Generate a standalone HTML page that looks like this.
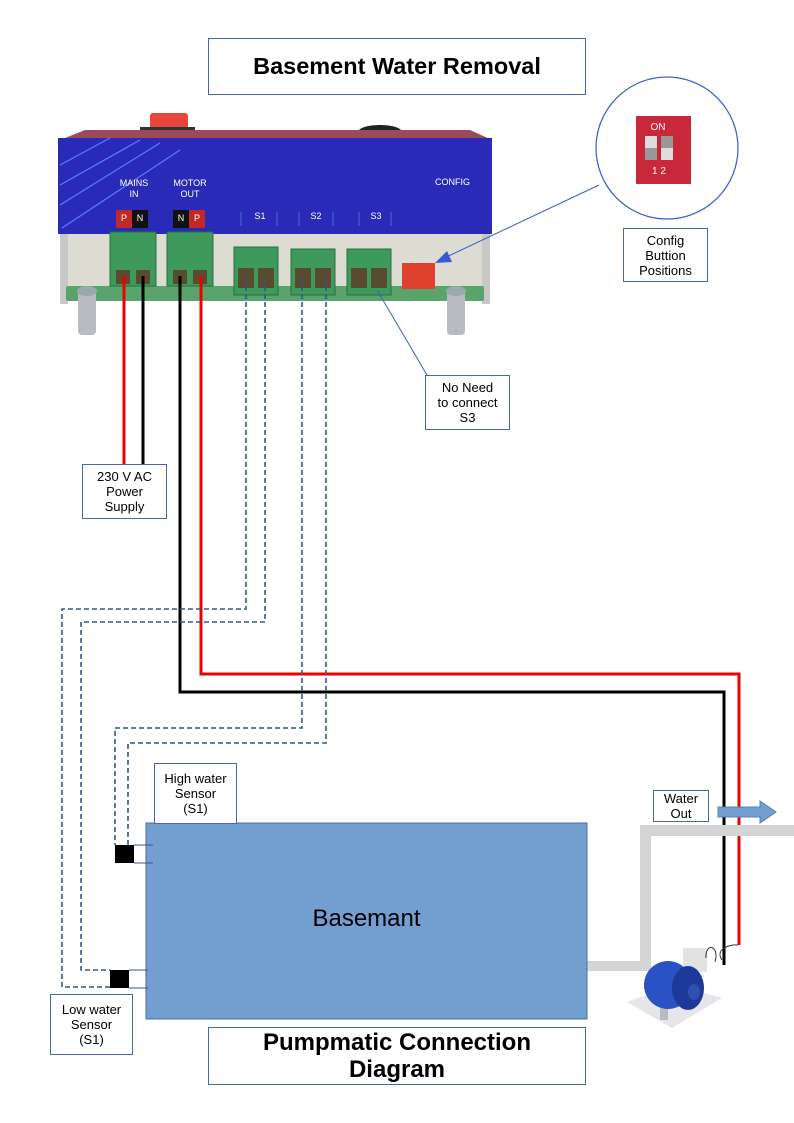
<!DOCTYPE html>
<html><head><meta charset="utf-8"><style>
body{margin:0;background:#fff;}
.t{position:absolute;font-family:"Liberation Sans",sans-serif;text-align:center;color:#000;}
.box{position:absolute;border:1px solid #4a63b8;background:#fff;box-sizing:border-box;font-family:"Liberation Sans",sans-serif;text-align:center;font-size:13px;line-height:15px;display:flex;align-items:center;justify-content:center;}
</style></head><body>
<div style="position:relative;width:794px;height:1123px;overflow:hidden">
<svg width="794" height="1123" style="position:absolute;left:0;top:0">
<!-- device -->
<rect x="150" y="113" width="38" height="20" rx="3" fill="#e8453c"/>
<rect x="140" y="127" width="55" height="8" fill="#333"/>
<ellipse cx="380" cy="132" rx="22" ry="7" fill="#222"/>
<polygon points="60,140 85,130 470,130 492,140" fill="#9b4a5a"/>
<rect x="58" y="138" width="434" height="96" fill="#2a2ab8"/>
<g stroke="#5a7cff" stroke-width="1.2">
<line x1="60" y1="165" x2="110" y2="138"/><line x1="60" y1="185" x2="140" y2="140"/><line x1="60" y1="205" x2="160" y2="143"/><line x1="62" y1="228" x2="180" y2="150"/>
</g>
<rect x="62" y="234" width="428" height="58" fill="#dcdcd2"/>
<rect x="60" y="234" width="8" height="70" fill="#c8c8c8"/>
<rect x="482" y="234" width="8" height="70" fill="#c8c8c8"/>
<rect x="66" y="286" width="418" height="15" rx="2" fill="#5aa36a"/>
<rect x="78" y="290" width="18" height="45" rx="4" fill="#b8bcc0"/>
<rect x="447" y="290" width="18" height="45" rx="4" fill="#b8bcc0"/>
<ellipse cx="87" cy="291" rx="10" ry="5" fill="#9aa"/>
<ellipse cx="456" cy="291" rx="10" ry="5" fill="#9aa"/>
<rect x="116" y="210" width="16" height="18" fill="#c0282a"/><rect x="132" y="210" width="16" height="18" fill="#111"/>
<rect x="173" y="210" width="16" height="18" fill="#111"/><rect x="189" y="210" width="16" height="18" fill="#c0282a"/>
<g stroke="#4b6cd6" stroke-width="1"><line x1="241" y1="212" x2="241" y2="226"/><line x1="277" y1="212" x2="277" y2="226"/><line x1="299" y1="212" x2="299" y2="226"/><line x1="333" y1="212" x2="333" y2="226"/><line x1="359" y1="212" x2="359" y2="226"/><line x1="391" y1="212" x2="391" y2="226"/></g>
<g fill="#3d9a5c" stroke="#2a6e40" stroke-width="1">
<rect x="110" y="232" width="46" height="54"/><rect x="167" y="232" width="46" height="54"/>
<rect x="234" y="247" width="44" height="48"/><rect x="291" y="249" width="44" height="46"/><rect x="347" y="249" width="44" height="46"/>
</g>
<g fill="#5a4a30">
<rect x="116" y="270" width="14" height="14"/><rect x="136" y="270" width="14" height="14"/><rect x="173" y="270" width="14" height="14"/><rect x="193" y="270" width="14" height="14"/>
<rect x="238" y="268" width="16" height="20"/><rect x="258" y="268" width="16" height="20"/><rect x="295" y="268" width="16" height="20"/><rect x="315" y="268" width="16" height="20"/><rect x="351" y="268" width="16" height="20"/><rect x="371" y="268" width="16" height="20"/>
</g>
<rect x="402" y="263" width="33" height="26" fill="#e0402e"/>
<circle cx="667" cy="148" r="71" fill="#fff" stroke="#3a5ad0" stroke-width="1.2"/>
<rect x="636" y="116" width="55" height="68" fill="#c8283a"/>
<rect x="645" y="136" width="12" height="24" fill="#ddd"/><rect x="661" y="136" width="12" height="24" fill="#ddd"/>
<rect x="645" y="148" width="12" height="12" fill="#999"/><rect x="661" y="136" width="12" height="12" fill="#999"/>
<line x1="599" y1="185" x2="440" y2="260" stroke="#3a5ad0" stroke-width="1"/>
<polygon points="435,263 447,251 452,262" fill="#3a5ad0"/>
<line x1="377" y1="290" x2="427" y2="375" stroke="#3a5ad0" stroke-width="1"/>
<line x1="124" y1="276" x2="124" y2="465" stroke="#e00" stroke-width="3"/>
<line x1="143" y1="276" x2="143" y2="465" stroke="#000" stroke-width="3"/>
<polyline points="201,276 201,674 739,674 739,945" fill="none" stroke="#e00" stroke-width="3"/>
<polyline points="180,276 180,692 724,692 724,965" fill="none" stroke="#000" stroke-width="3"/>
<g fill="none" stroke="#2e5a8f" stroke-width="1.6" stroke-dasharray="5,3">
<polyline points="246,278 246,609 62,609 62,987 110,987"/>
<polyline points="265,278 265,622 81,622 81,970 110,970"/>
<polyline points="302,278 302,728 115,728 115,845"/>
<polyline points="326,278 326,743 128,743 128,845"/>
</g>
<rect x="640" y="825" width="154" height="11" fill="#d4d4d4"/>
<rect x="640" y="825" width="11" height="140" fill="#d4d4d4"/>
<rect x="579" y="961" width="72" height="10" fill="#d4d4d4"/>
<rect x="146" y="823" width="441" height="196" fill="#729fcf" stroke="#4a6fa0"/>
<rect x="115" y="845" width="19" height="18" fill="#000"/>
<line x1="134" y1="845" x2="153" y2="845" stroke="#3a5a80"/><line x1="134" y1="863" x2="153" y2="863" stroke="#3a5a80"/>
<rect x="110" y="970" width="19" height="18" fill="#000"/>
<line x1="129" y1="970" x2="148" y2="970" stroke="#3a5a80"/><line x1="129" y1="988" x2="148" y2="988" stroke="#3a5a80"/>
<polygon points="718,807 760,807 760,801 776,812 760,823 760,817 718,817" fill="#729fcf" stroke="#5080b8"/>
<!-- pump -->
<polygon points="627,1002 675,985 722,998 672,1028" fill="#e6e6ea"/>
<rect x="683" y="948" width="24" height="24" fill="#e2e2e2"/>
<rect x="660" y="1000" width="8" height="20" fill="#bbb"/><rect x="685" y="990" width="8" height="18" fill="#bbb"/>
<ellipse cx="668" cy="985" rx="24" ry="24" fill="#2a52c4"/>
<ellipse cx="688" cy="988" rx="16" ry="22" fill="#1d3a9a"/>
<ellipse cx="694" cy="992" rx="6" ry="8" fill="#3050b0"/>
<path d="M706,958 C705,942 720,945 715,962 M722,960 C715,950 728,944 738,945" stroke="#333" fill="none"/>
</svg>
<div class="t" style="left:116px;top:178px;width:36px;font-size:9px;line-height:11px;color:#fff">MAINS<br>IN</div>
<div class="t" style="left:165px;top:178px;width:50px;font-size:9px;line-height:11px;color:#fff">MOTOR<br>OUT</div>
<div class="t" style="left:116px;top:213px;width:16px;font-size:9px;color:#fff">P</div>
<div class="t" style="left:132px;top:213px;width:16px;font-size:9px;color:#fff">N</div>
<div class="t" style="left:173px;top:213px;width:16px;font-size:9px;color:#fff">N</div>
<div class="t" style="left:189px;top:213px;width:16px;font-size:9px;color:#fff">P</div>
<div class="t" style="left:250px;top:211px;width:20px;font-size:9px;color:#fff">S1</div>
<div class="t" style="left:306px;top:211px;width:20px;font-size:9px;color:#fff">S2</div>
<div class="t" style="left:366px;top:211px;width:20px;font-size:9px;color:#fff">S3</div>
<div class="t" style="left:425px;top:177px;width:55px;font-size:9px;color:#fff">CONFIG</div>
<div class="t" style="left:645px;top:122px;width:26px;font-size:10px;color:#fff">ON</div>
<div class="t" style="left:645px;top:166px;width:28px;font-size:10px;color:#fff">1 2</div>
<div class="box" style="left:208px;top:38px;width:378px;height:57px;font-size:23.5px;font-weight:bold">Basement Water Removal</div>
<div class="box" style="left:623px;top:228px;width:85px;height:54px">Config<br>Buttion<br>Positions</div>
<div class="box" style="left:425px;top:375px;width:85px;height:55px">No Need<br>to connect<br>S3</div>
<div class="box" style="left:82px;top:464px;width:85px;height:55px">230 V AC<br>Power<br>Supply</div>
<div class="box" style="left:154px;top:763px;width:83px;height:61px">High water<br>Sensor<br>(S1)</div>
<div class="box" style="left:50px;top:994px;width:83px;height:61px">Low water<br>Sensor<br>(S1)</div>
<div class="box" style="left:653px;top:790px;width:56px;height:32px">Water<br>Out</div>
<div class="t" style="left:146px;top:905px;width:441px;font-size:24px">Basemant</div>
<div class="box" style="left:208px;top:1027px;width:378px;height:58px;font-size:24px;font-weight:bold;line-height:27px">Pumpmatic Connection<br>Diagram</div>
</div>
</body></html>
